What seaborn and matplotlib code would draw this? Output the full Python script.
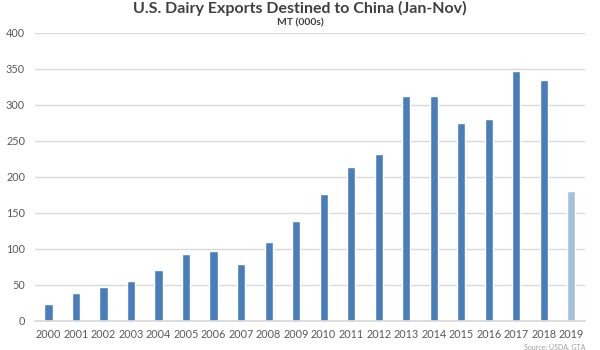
import matplotlib
matplotlib.use("Agg")
import matplotlib.pyplot as plt
import seaborn as sns
import pandas as pd

years = ["2000", "2001", "2002", "2003", "2004", "2005", "2006", "2007", "2008", "2009",
         "2010", "2011", "2012", "2013", "2014", "2015", "2016", "2017", "2018", "2019"]
exports = [24, 39, 47, 56, 71, 93, 97, 79, 110, 139,
           176, 214, 232, 313, 312, 275, 280, 347, 334, 181]
title = "U.S. Dairy Exports Destined to China (Jan-Nov)"
subtitle = "MT (000s)"
source = "Source: USDA, GTA"

sns.set_theme(style="white")
plt.rcParams['font.family'] = ['Lato', 'DejaVu Sans']

df = pd.DataFrame({"year": years, "value": exports})
colors = {y: "#4a7ebb" for y in years}
colors["2019"] = "#a7bfdf"

fig = plt.figure(figsize=(6, 3.5), dpi=100)
ax = fig.add_axes([0.058, 0.083, 0.917, 0.823])
sns.barplot(data=df, x="year", y="value", hue="year", palette=colors,
            legend=False, width=0.3, ax=ax, saturation=1)

ax.set_ylim(0, 400)
ax.set_yticks(range(0, 401, 50))
ax.yaxis.grid(True, color="#d9d9d9", linewidth=1)
ax.set_axisbelow(True)
for s in ["top", "right", "left"]:
    ax.spines[s].set_visible(False)
ax.spines["bottom"].set_color("#d9d9d9")
ax.set_xlabel("")
ax.set_ylabel("")
ax.tick_params(axis="both", length=0, labelsize=7.8, labelcolor="#595959")
ax.tick_params(axis="x", pad=6)
ax.tick_params(axis="y", pad=7)

fig.text(0.5, 0.975, title, ha="center", va="center", fontsize=11.5,
         fontweight="bold", color="#404040")
fig.text(0.5, 0.935, subtitle, ha="center", va="center", fontsize=7.5,
         fontweight="bold", color="#404040")
fig.text(0.975, 0.008, source, ha="right", va="center",
         fontsize=5, color="#a0a0a0")

fig.savefig("out.png", dpi=100)
